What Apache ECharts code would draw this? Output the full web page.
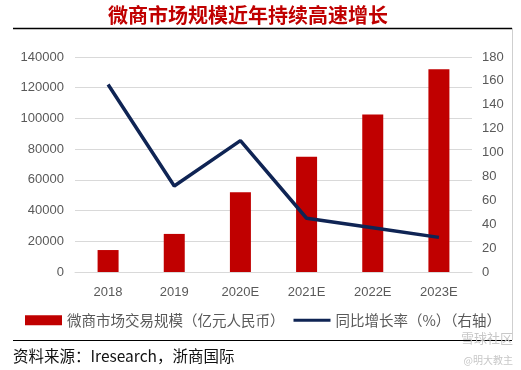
<!DOCTYPE html>
<html><head><meta charset="utf-8">
<script src="https://cdn.jsdelivr.net/npm/echarts@6/dist/echarts.min.js"></script>
<style>html,body{margin:0;padding:0;background:#fff;}#c{width:521px;height:370px;}</style>
</head><body><div id="c"></div>
<script>
const categories = ['2018', '2019', '2020E', '2021E', '2022E', '2023E'];
const scaleValues = [14300, 24800, 52000, 75000, 102500, 132000];
const growthValues = [157, 72, 110, 45, 37, 29];
const leftTicks = { min: 0, max: 140000, interval: 20000 };
const rightTicks = { min: 0, max: 180, interval: 20 };
const barName = '微商市场交易规模（亿元人民币）';
const lineName = '同比增长率（%）（右轴）';

const chart = echarts.init(document.getElementById('c'), null, { renderer: 'canvas' });
const axisFont = { color: '#595959', fontSize: 13, fontFamily: 'Liberation Sans, Arial, sans-serif' };
const plain = v => String(v);
chart.setOption({
  animation: false,
  backgroundColor: '#fff',
  title: {
    text: '微商市场规模近年持续高速增长',
    left: 243, top: 0, textAlign: 'center',
    textStyle: { color: '#c00000', fontSize: 20, fontWeight: 'bold', fontFamily: 'Noto Sans CJK SC' }
  },
  grid: { left: 75, right: 49, top: 57, bottom: 98 },
  legend: {
    left: 20, top: 308, itemGap: 9,
    textStyle: { color: '#595959', fontSize: 14.5, fontFamily: 'Noto Sans CJK SC' },
    data: [
      { name: barName, icon: 'rect', itemStyle: { color: '#c00000' } },
      { name: lineName, icon: 'path://M0,0 L40,0 L40,3.2 L0,3.2 Z', itemStyle: { color: '#0f2454' } }
    ],
    itemWidth: 37, itemHeight: 10
  },
  xAxis: {
    type: 'category', data: categories,
    axisLine: { show: true, lineStyle: { color: '#d9d9d9' } },
    axisTick: { show: false },
    axisLabel: Object.assign({ margin: 14 }, axisFont)
  },
  yAxis: [
    Object.assign({ type: 'value', position: 'left',
      axisLabel: Object.assign({ margin: 11, formatter: plain }, axisFont),
      splitLine: { lineStyle: { color: '#d9d9d9' } },
      axisLine: { show: false }, axisTick: { show: false } }, leftTicks),
    Object.assign({ type: 'value', position: 'right',
      axisLabel: Object.assign({ margin: 10, formatter: plain }, axisFont),
      splitLine: { show: false },
      axisLine: { show: false }, axisTick: { show: false } }, rightTicks)
  ],
  series: [
    { name: barName, type: 'bar', data: scaleValues, barWidth: 21, itemStyle: { color: '#c00000' } },
    { name: lineName, type: 'line', yAxisIndex: 1, data: growthValues, symbol: 'none',
      lineStyle: { color: '#0f2454', width: 3.5 }, itemStyle: { color: '#0f2454' } }
  ],
  graphic: [
    { type: 'line', shape: { x1: 13, y1: 28.5, x2: 512, y2: 28.5 }, style: { stroke: '#000', lineWidth: 1.5 } },
    { type: 'line', shape: { x1: 512.5, y1: 28, x2: 512.5, y2: 340 }, style: { stroke: '#cfcfcf', lineWidth: 1 } },
    { type: 'line', shape: { x1: 13, y1: 340.5, x2: 512, y2: 340.5 }, style: { stroke: '#000', lineWidth: 1.2 } },
    { type: 'text', left: 13, top: 348, style: { text: '资料来源：Iresearch，浙商国际', fill: '#111', fontSize: 15.5, fontFamily: 'Noto Sans CJK SC' } },
    { type: 'text', right: 8, top: 332, style: { text: '雪球社区', fill: '#c8c8c8', fontSize: 13, fontFamily: 'Noto Sans CJK SC' } },
    { type: 'text', right: 8, top: 355, style: { text: '@明大教主', fill: '#c8c8c8', fontSize: 10, fontFamily: 'Noto Sans CJK SC' } }
  ]
});
</script></body></html>
